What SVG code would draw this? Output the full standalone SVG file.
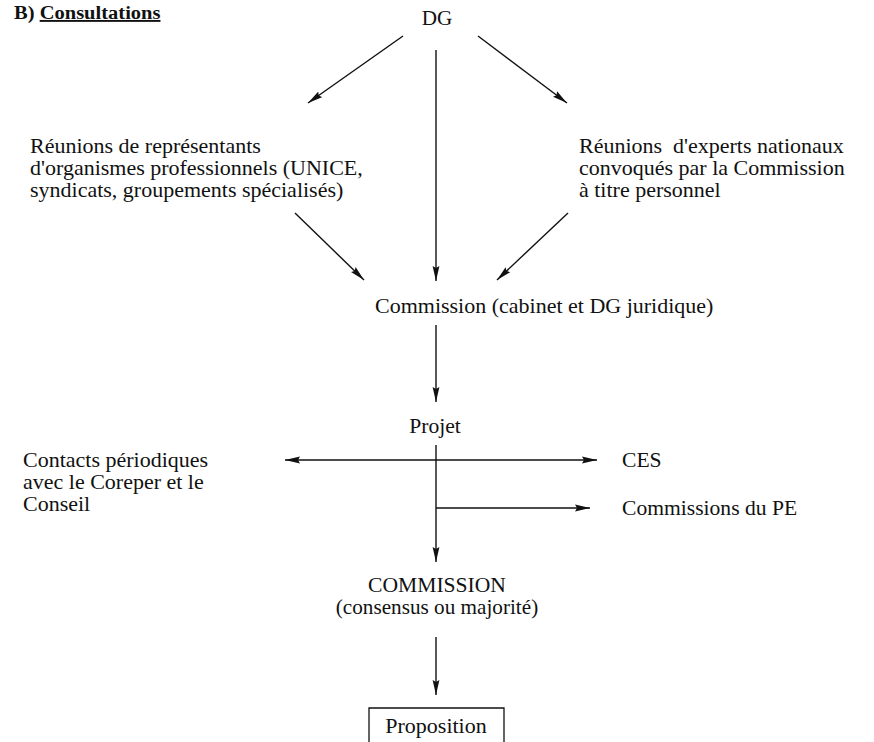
<svg xmlns="http://www.w3.org/2000/svg" width="874" height="742" viewBox="0 0 874 742">
  <defs>
    <marker id="arrow" viewBox="0 0 15 8" refX="15" refY="4" markerWidth="15" markerHeight="8" markerUnits="userSpaceOnUse" orient="auto-start-reverse">
      <path d="M0,0.6 L15,4 L0,7.4 L2,4 Z" fill="#111"/>
    </marker>
    <style>
      text { font-family: "Liberation Serif", "Times New Roman", serif; font-size: 20px; fill: #111; }
      .title { font-weight: bold; font-size: 19px; }
      .mid { text-anchor: middle; }
      .edge { stroke: #111; stroke-width: 1.4; fill: none; }
      .box { stroke: #111; stroke-width: 1.3; fill: none; }
    </style>
  </defs>

  <rect width="874" height="742" fill="#fff"/>

  <!-- lettering is a slightly wide serif: every line gets a small horizontal stretch -->
  <g id="heading">
    <text class="title" transform="translate(14 19) scale(1.08 1)">B) <tspan text-decoration="underline">Consultations</tspan></text>
  </g>

  <g id="dg">
    <text class="mid" transform="translate(437 25) scale(1.06 1)">DG</text>
  </g>

  <g id="reunions-representants">
    <text transform="translate(30 153) scale(1.1 1)">Réunions de représentants</text>
    <text transform="translate(30 175) scale(1.1 1)">d'organismes professionnels (UNICE,</text>
    <text transform="translate(30 197) scale(1.1 1)">syndicats, groupements spécialisés)</text>
  </g>

  <g id="reunions-experts">
    <text transform="translate(579 153) scale(1.1 1)" xml:space="preserve">Réunions  d'experts nationaux</text>
    <text transform="translate(579 175) scale(1.1 1)">convoqués par la Commission</text>
    <text transform="translate(579 197) scale(1.1 1)">à titre personnel</text>
  </g>

  <g id="commission-cabinet">
    <text transform="translate(375 313) scale(1.1 1)">Commission (cabinet et DG juridique)</text>
  </g>

  <g id="projet">
    <text class="mid" transform="translate(435 433) scale(1.08 1)">Projet</text>
  </g>

  <g id="contacts">
    <text transform="translate(23 467) scale(1.1 1)">Contacts périodiques</text>
    <text transform="translate(23 489) scale(1.1 1)">avec le Coreper et le</text>
    <text transform="translate(23 511) scale(1.1 1)">Conseil</text>
  </g>

  <g id="ces">
    <text transform="translate(622 467) scale(1.08 1)">CES</text>
  </g>

  <g id="commissions-pe">
    <text transform="translate(622 515) scale(1.08 1)">Commissions du PE</text>
  </g>

  <g id="commission-college">
    <text class="mid" transform="translate(437 592) scale(1.08 1)">COMMISSION</text>
    <text class="mid" transform="translate(437 614) scale(1.06 1)">(consensus ou majorité)</text>
  </g>

  <g id="proposition">
    <path class="box" d="M369,742 L369,708 L504,708 L504,742"/>
    <text class="mid" transform="translate(436 733) scale(1.1 1)">Proposition</text>
  </g>

  <g id="connectors">
    <line class="edge" x1="403" y1="36" x2="308" y2="103" marker-end="url(#arrow)"/>
    <line class="edge" x1="478" y1="36" x2="567" y2="103" marker-end="url(#arrow)"/>
    <line class="edge" x1="436" y1="50" x2="436" y2="281" marker-end="url(#arrow)"/>
    <line class="edge" x1="295" y1="213" x2="364" y2="280" marker-end="url(#arrow)"/>
    <line class="edge" x1="568" y1="213" x2="497" y2="280" marker-end="url(#arrow)"/>
    <line class="edge" x1="436" y1="325" x2="436" y2="402" marker-end="url(#arrow)"/>
    <line class="edge" x1="436" y1="445" x2="436" y2="562" marker-end="url(#arrow)"/>
    <line class="edge" x1="285" y1="460" x2="597" y2="460" marker-start="url(#arrow)" marker-end="url(#arrow)"/>
    <line class="edge" x1="436" y1="508" x2="590" y2="508" marker-end="url(#arrow)"/>
    <line class="edge" x1="436" y1="637" x2="436" y2="695" marker-end="url(#arrow)"/>
  </g>
</svg>
